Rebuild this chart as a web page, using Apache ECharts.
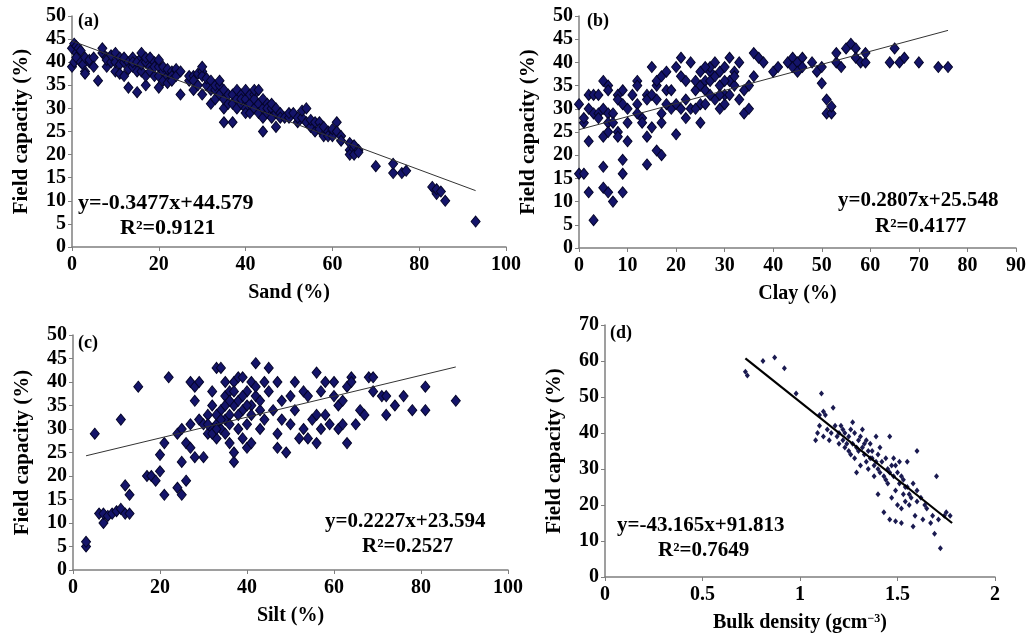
<!DOCTYPE html>
<html><head><meta charset="utf-8">
<script src="https://cdn.jsdelivr.net/npm/echarts@6/dist/echarts.min.js"></script>
<style>html,body{margin:0;padding:0;background:#fff}#c{width:1033px;height:638px}</style>
</head><body><div id="c"></div>
<script>
// ---- Data ----
const sandFC = [[0,43],[0.5,44],[1,43.5],[1,42],[1.5,43],[2,42.5],[0,39],[0.5,40],[1,41],[2,40],[2.5,39.5],[3,38],[3,37.5],[3,41],[4,40],[4,40.5],[5,41],[5,39],[6,36],
[7,42],[7,43],[8,41],[8,39],[8,40.5],[9,40],[9,41.5],[10,42],[10,38],[10,40],[11,41],[11,39.5],[11,37.5],[12,40],[12,37],[12,41],[13,34.5],[13,40],[13,38.5],
[14,41],[14,39],[14,40],[15,33.5],[15,40],[15,38],[16,41],[16,38],[16,39.5],[16,42],[17,40],[17,35],[17,37],[17,41],[18,39],[18,41],[18,38],[19,40],[19,37],[19,39],[20,34.5],[20,39],[20,40.5],[20,37],
[21,38],[21,36],[21,39],[22,37],[22,35.5],[22,38.5],[23,38],[23,37],[23,36],[24,38.5],[24,37],[25,33],[25,38],
[27,36],[27,37],[28,37],[28,34],[28,36],[29,35],[29,37.5],[30,38],[30,37],[30,33],[30,39],[31,35],[31,36.5],[32,31],[32,36],[32,34],[33,34],[33,35],[33,32],[34,35],[34,33],[34,36],
[35,30],[35,27],[35,32],[35,34],[36,31],[36,33],[37,27],[37,33],[37,31],[38,32],[38,34],[38,30],[39,31],[39,33],[39,32],[40,32],[40,30],[40,34],[40,29],
[41,29],[41,31],[41,33],[42,33],[42,30],[42,32],[42,34],[43,31],[43,34],[43,29],[44,25],[44,28],[44,30],[44,32],[45,31],[45,29],[45,30],[46,30],[46,28],[46,31],[47,26],[47,29],[47,30],
[48,29],[48,28],[49,28],[50,28],[50,29],[51,29],[52,27],[52,28],[53,28],[53,29.5],[54,27],[54,30],[55,26],[55,27.5],[56,25],[56,27],
[57,27],[57,25.5],[58,24],[58,26],[59,25],[59,24],[60,24],[60,25.5],[61,27],[61,25],[62,24],[62,23],[64,21],[64,20],[64,22.5],[65,20],[65,22],[66,21],[66,20.5],
[70,17.5],[74,16],[74,18],[76,16],[77,16.5],[83,13],[84,11.5],[84,12.5],[85,12],[86,10],[93,5.5]];
const sandFit = [[0,44.6],[93,12.2]];

const clayFC = [[0,31],[0,16],[1,27],[1,28],[1,16],[2,33],[2,12],[2,23],[2,30],[3,33],[3,6],[3,29],[4,29],[4,28],[5,36],[5,30],[5,24],[5,17.5],[5,13],
[6,35],[6,34],[6,29],[6,27],[6,25],[6,12],[7,29],[7,27],[7,10],[8,33],[8,32],[8,25],[8,24],[9,34],[9,31],[9,19],[9,16],[9,12],[10,23],[10,30],
[11,33],[12,36],[12,35],[12,31],[13,28],[13,27],[14,33],[14,32],[14,24],[14,18],[15,26],[15,33],[15,39],[16,35],[16,32],[16,21],[16,36],[17,27],[17,37],[17,20],[17,29],
[18,38],[18,34],[19,34],[19,30],[20,24.5],[20,31],[20,39],[21,30],[21,41],[21,37],[22,28],[22,32],[23,40],[23,30],[24,34],[24,36],[25,35],[25,31],[25,27],[25,38],
[26,36],[26,31],[26,34],[27,38],[27,36],[27,39],[28,32],[28,37],[28,40],[29,30],[29,35],[29,38],[30,31],[30,33],[30,39],[31,36],[31,41],[31,33],[32,38],[32,35],
[33,40],[33,32],[34,29],[35,30],[35,35],[36,37],[36,42],[37,41],[38,40],[40,38],[41,39],[43,40],[44,41],[44,39],[45,40],[45,38],[46,41],[46,39],[48,40],[49,38],
[50,35.5],[50,39],[51,32],[51,29],[52,29],[52,30.5],[53,40],[53,42],[54,39],[55,43],[56,44],[57,43],[57,41],[58,40],[59,40],[59,42],[64,40],[65,43],[66,40],[67,41],[70,40],[74,39],[76,39],
[4,33],[10,27],[12,29],[18,31],[22,36],[24,30],[27,33],[29,33],[30,36],[32,37],[34,34],[26,39]];
const clayFit = [[0,25.5],[76,46.9]];

const siltFC = [[3,5],[3,6],[5,29],[6,12],[7,10],[7,12],[8,11.5],[9,12],[10,12.5],[11,13],[11,32],[12,18],[12,12],[13,16],[13,12],[15,39],[17,20],[18,20],[19,19],[20,21],[20,24.5],
[21,27],[21,16],[22,41],[24,17.5],[24,29],[25,16],[25,23],[25,30],[26,19],[26,27],[27,26],[27,31],[27,40],[28,39],[28,36],[28,24],[29,32],[29,40],[30,24],[30,31],
[31,29],[31,33],[32,30],[32,38],[32,35],[33,43],[33,31],[33,28],[34,30],[34,34],[34,43],[35,29],[35,32],[35,37],[36,38],[36,33],[36,27],[37,23],[37,25],[37,40],[37,35],
[38,41],[38,36],[38,30],[39,41],[39,34],[39,28],[40,26],[40,31],[40,38],[41,35],[41,27],[41,33],[41,40],[42,44],[42,37],[43,30],[43,34],[44,32],[44,40],[45,43],[45,38],
[46,34],[47,26],[47,29],[47,40],[48,36],[48,32],[49,25],[50,31],[50,37],[51,34],[51,40],[52,28],[53,30],[53,38],[54,28],[54,37],[55,32],[56,27],[56,33],[56,42],
[57,30],[57,38],[58,40],[58,33],[59,31],[60,37],[60,40],[61,35],[61,30],[62,36],[62,31],[63,27],[63,39],[64,41],[64,40],[65,31],[66,34],[67,33],[68,41],[69,38],[69,41],
[71,37],[72,37],[72,33],[74,35],[76,37],[78,34],[81,34],[81,39],[88,36],
[31,31],[32,29],[33,33],[34,32],[35,35],[36,36],[37,38],[38,33],[39,37],[40,35],[42,39],[43,36],[35,40],[36,31],[33,30]];
const siltFit = [[3,24.3],[88,43.2]];

const bdFC = [[0.72,57],[0.73,56],[0.81,60],[0.87,61],[0.92,58],[0.98,51],[1.11,51],[1.1,45],[1.12,46],[1.13,45],[1.17,47],[1.08,38],[1.09,40],[1.1,42],[1.12,39],[1.15,38],
[1.18,42],[1.2,40],[1.2,37],[1.22,41],[1.22,38],[1.23,36],[1.25,39],[1.25,35],[1.27,43],[1.27,37],[1.28,40],[1.28,33],[1.29,29],[1.3,38],[1.3,35],[1.31,31],[1.32,41],[1.32,36],
[1.33,34],[1.34,38],[1.34,32],[1.35,30],[1.36,37],[1.36,33],[1.37,35],[1.38,31],[1.38,28],[1.39,39],[1.4,34],[1.4,30],[1.4,23],[1.41,36],[1.42,32],[1.43,28],[1.43,18],
[1.44,33],[1.45,30],[1.45,26],[1.46,39],[1.46,16],[1.47,31],[1.47,22],[1.48,28],[1.48,33],[1.49,24],[1.49,15.5],[1.5,29],[1.5,20],[1.51,26],[1.51,32],[1.52,19],[1.52,15],
[1.53,27],[1.53,23],[1.54,21],[1.55,25],[1.55,32],[1.56,20],[1.57,22],[1.58,14],[1.58,26],[1.59,17],[1.6,35],[1.6,24],[1.62,22],[1.63,16],[1.65,19],[1.67,15],[1.68,17],
[1.69,12],[1.7,28],[1.72,8],[1.75,18],[1.77,17],
[1.14,41],[1.16,40],[1.19,39],[1.21,42],[1.23,40],[1.24,37],[1.26,41],[1.26,34],[1.29,36],[1.31,39],[1.33,37],[1.35,35],[1.37,33],[1.39,32],[1.41,29],[1.44,27],[1.46,29],
[1.49,31],[1.52,28],[1.54,25],[1.56,23],[1.6,21],[1.64,20],[1.71,16],[1.74,17]];
const bdFit = [[0.72,60.7],[1.78,15.0]];

// ---- Layout / styles ----
const FONT = "'Liberation Serif','Times New Roman',serif";
const axisCol = '#7f7f7f';
const grids = [
  {left:72, top:16, width:434, height:231},
  {left:579, top:16, width:437, height:232},
  {left:73, top:335, width:435, height:235},
  {left:605, top:325, width:390, height:252}
];
const xs = [
  {name:'Sand (%)', min:0, max:100, interval:20},
  {name:'Clay (%)', min:0, max:90, interval:10},
  {name:'Silt (%)', min:0, max:100, interval:20},
  {name:'Bulk density (gcm{sup|−3})', min:0, max:2, interval:0.5}
];
const ys = [
  {min:0,max:50,interval:5},{min:0,max:50,interval:5},{min:0,max:50,interval:5},{min:0,max:70,interval:10}
];
const txt = {color:'#000', fontFamily:FONT, fontWeight:'bold', fontSize:20};
const xAxis = xs.map((a,i)=>({
  type:'value', gridIndex:i, min:a.min, max:a.max, interval:a.interval,
  name:a.name, nameLocation:'middle', nameGap:36,
  nameTextStyle:Object.assign({}, txt, {fontSize:20, rich:{sup:{fontFamily:FONT,fontWeight:'bold',fontSize:12,verticalAlign:'top',padding:[0,0,8,0]}}}),
  axisLine:{lineStyle:{color:axisCol,width:1.5}}, axisTick:{length:4,lineStyle:{color:axisCol}},
  axisLabel:Object.assign({}, txt, {margin:8}), splitLine:{show:false}
}));
const yAxis = ys.map((a,i)=>({
  type:'value', gridIndex:i, min:a.min, max:a.max, interval:a.interval,
  name:'Field capacity (%)', nameLocation:'middle', nameGap:40, nameRotate:90,
  nameTextStyle:Object.assign({}, txt, {fontSize:21}),
  axisLine:{show:true,lineStyle:{color:axisCol,width:1.5}}, axisTick:{show:true,length:4,lineStyle:{color:axisCol}},
  axisLabel:Object.assign({}, txt, {margin:6}), splitLine:{show:false}
}));
const pts = [sandFC, clayFC, siltFC, bdFC];
const fits = [sandFit, clayFit, siltFit, bdFit];
const series = [];
pts.forEach((d,i)=>{
  series.push({type:'scatter', xAxisIndex:i, yAxisIndex:i, data:d,
    symbol:'diamond', symbolSize: i<3 ? [9,11] : [5,6],
    itemStyle: i<3 ? {color:'#14146a', borderColor:'#05052a', borderWidth:1, opacity:1} : {color:'#1a1a50', opacity:1}, z:2});
  series.push({type:'line', xAxisIndex:i, yAxisIndex:i, data:fits[i], symbol:'none',
    lineStyle:{color: i<3 ? '#333' : '#000', width: i<3 ? 1 : 2.2}, z:3});
});
const T = (x,y,text,size,sx)=>({type:'text', x:x, y:y, scaleX:sx||1, style:{text:text, fill:'#000', font:'bold '+(size||18)+'px '+FONT}});
const graphic = [
  T(78,12,'(a)',18), T(587,12,'(b)',18), T(78,334,'(c)',18), T(610,324,'(d)',18),
  T(78,194,'y=-0.3477x+44.579',20,1.1), T(120,219,'R²=0.9121',20,1.1),
  T(838,191,'y=0.2807x+25.548',20,1.05), T(875,217,'R²=0.4177',20,1.05),
  T(325,512,'y=0.2227x+23.594',20,1.05), T(362,537,'R²=0.2527',20,1.05),
  T(617,516,'y=-43.165x+91.813',20,1.05), T(658,541,'R²=0.7649',20,1.05)
];
const chart = echarts.init(document.getElementById('c'), null, {renderer:'canvas'});
chart.setOption({animation:false, backgroundColor:'#fff', grid:grids.map(g=>Object.assign({containLabel:false},g)),
  xAxis, yAxis, series, graphic});
</script></body></html>
